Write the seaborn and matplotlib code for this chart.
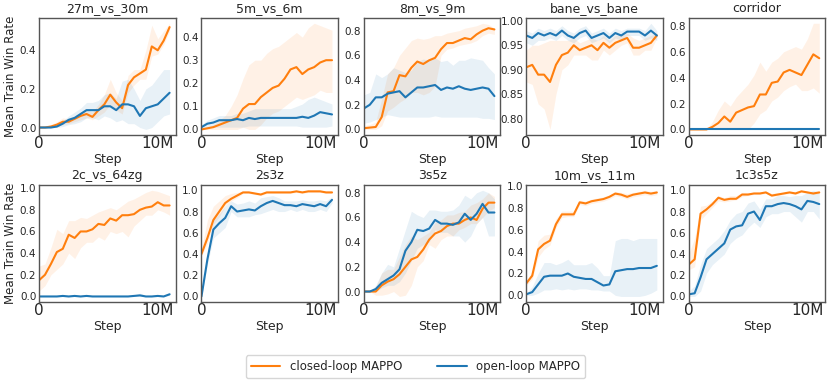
import numpy as np
import pandas as pd
import seaborn as sns
import matplotlib
matplotlib.use("Agg")
import matplotlib.pyplot as plt
from matplotlib.ticker import MultipleLocator, FormatStrFormatter

# steps in millions
steps = [0, 0.5, 1, 1.5, 2, 2.5, 3, 3.5, 4, 4.5, 5, 5.5, 6, 6.5, 7, 7.5, 8, 8.5, 9, 9.5, 10, 10.5, 11]

maps = ['27m_vs_30m', '5m_vs_6m', '8m_vs_9m', 'bane_vs_bane', 'corridor',
        '2c_vs_64zg', '2s3z', '3s5z', '10m_vs_11m', '1c3s5z']
ytick_step = [0.2, 0.1, 0.2, 0.05, 0.2, 0.2, 0.2, 0.2, 0.2, 0.2]

# closed-loop MAPPO (mean, low, high)
cl_27m = [0, 0, 0.005, 0.015, 0.03, 0.03, 0.045, 0.06, 0.07, 0.055, 0.09, 0.12, 0.17, 0.13, 0.1, 0.22, 0.26, 0.28, 0.3, 0.42, 0.4, 0.45, 0.52]
cl_27m_lo = [0, 0, 0, 0.005, 0.015, 0.02, 0.03, 0.04, 0.05, 0.04, 0.06, 0.08, 0.12, 0.09, 0.07, 0.18, 0.22, 0.25, 0.25, 0.37, 0.38, 0.43, 0.5]
cl_27m_hi = [0, 0.01, 0.015, 0.03, 0.05, 0.045, 0.06, 0.08, 0.09, 0.08, 0.12, 0.17, 0.25, 0.18, 0.14, 0.27, 0.3, 0.3, 0.4, 0.53, 0.46, 0.5, 0.54]
ol_27m = [0, 0, 0, 0.005, 0.02, 0.04, 0.05, 0.07, 0.09, 0.09, 0.09, 0.11, 0.11, 0.09, 0.12, 0.12, 0.11, 0.06, 0.1, 0.11, 0.12, 0.15, 0.18]
ol_27m_lo = [0, 0, 0, 0, 0.005, 0.015, 0.02, 0.03, 0.05, 0.05, 0.04, 0.06, 0.05, 0.03, 0.04, 0.02, 0.02, 0.0, -0.01, 0.0, 0.03, 0.06, 0.07]
ol_27m_hi = [0, 0, 0.005, 0.01, 0.035, 0.06, 0.08, 0.1, 0.13, 0.13, 0.14, 0.17, 0.18, 0.15, 0.24, 0.25, 0.2, 0.14, 0.2, 0.22, 0.26, 0.3, 0.3]

cl_5m = [0, 0.005, 0.01, 0.02, 0.03, 0.04, 0.05, 0.09, 0.11, 0.11, 0.14, 0.16, 0.18, 0.19, 0.22, 0.26, 0.27, 0.24, 0.26, 0.27, 0.29, 0.3, 0.3]
cl_5m_lo = [0, 0, 0, 0, 0, 0, 0, 0.01, 0, 0, 0.02, 0.05, 0.07, 0.08, 0.1, 0.12, 0.14, 0.13, 0.14, 0.15, 0.17, 0.16, 0.16]
cl_5m_hi = [0, 0.01, 0.02, 0.04, 0.06, 0.1, 0.15, 0.22, 0.28, 0.3, 0.3, 0.33, 0.35, 0.36, 0.38, 0.4, 0.42, 0.4, 0.44, 0.46, 0.45, 0.44, 0.43]
ol_5m = [0.01, 0.025, 0.03, 0.04, 0.04, 0.04, 0.045, 0.04, 0.05, 0.045, 0.05, 0.05, 0.05, 0.05, 0.05, 0.05, 0.05, 0.055, 0.05, 0.06, 0.075, 0.07, 0.065]
ol_5m_lo = [0, 0.01, 0.01, 0.01, 0.01, 0.01, 0.01, 0.01, 0.015, 0.015, 0.015, 0.015, 0.015, 0.015, 0.015, 0.015, 0.015, 0.01, 0.01, 0.01, 0.01, 0.01, 0.015]
ol_5m_hi = [0.02, 0.04, 0.05, 0.06, 0.06, 0.06, 0.07, 0.07, 0.08, 0.09, 0.09, 0.09, 0.09, 0.09, 0.09, 0.09, 0.1, 0.11, 0.13, 0.14, 0.13, 0.12, 0.11]

cl_8m = [0.01, 0.015, 0.02, 0.1, 0.3, 0.31, 0.44, 0.43, 0.5, 0.55, 0.53, 0.56, 0.58, 0.65, 0.7, 0.7, 0.72, 0.74, 0.73, 0.77, 0.8, 0.82, 0.81]
cl_8m_lo = [0, 0, 0, 0.03, 0.15, 0.18, 0.22, 0.25, 0.3, 0.3, 0.28, 0.3, 0.35, 0.6, 0.65, 0.66, 0.68, 0.69, 0.7, 0.72, 0.76, 0.78, 0.77]
cl_8m_hi = [0.03, 0.04, 0.06, 0.25, 0.45, 0.5, 0.6, 0.66, 0.72, 0.74, 0.73, 0.74, 0.76, 0.76, 0.78, 0.79, 0.8, 0.82, 0.83, 0.84, 0.86, 0.85, 0.82]
ol_8m = [0.17, 0.2, 0.26, 0.26, 0.29, 0.3, 0.31, 0.26, 0.3, 0.34, 0.34, 0.35, 0.36, 0.32, 0.34, 0.33, 0.35, 0.33, 0.32, 0.33, 0.34, 0.33, 0.27]
ol_8m_lo = [0.05, 0.06, 0.08, 0.1, 0.12, 0.11, 0.1, 0.1, 0.1, 0.1, 0.1, 0.1, 0.11, 0.1, 0.1, 0.1, 0.1, 0.1, 0.1, 0.1, 0.09, 0.09, 0.08]
ol_8m_hi = [0.28, 0.3, 0.45, 0.42, 0.45, 0.5, 0.48, 0.46, 0.48, 0.55, 0.57, 0.56, 0.58, 0.55, 0.56, 0.52, 0.56, 0.56, 0.58, 0.57, 0.56, 0.5, 0.45]

cl_bane = [0.905, 0.91, 0.89, 0.89, 0.875, 0.91, 0.93, 0.935, 0.95, 0.94, 0.945, 0.95, 0.94, 0.955, 0.945, 0.955, 0.96, 0.965, 0.945, 0.945, 0.95, 0.955, 0.97]
cl_bane_lo = [0.875, 0.87, 0.83, 0.82, 0.778, 0.85, 0.9, 0.91, 0.93, 0.93, 0.93, 0.92, 0.92, 0.94, 0.93, 0.94, 0.95, 0.955, 0.93, 0.93, 0.94, 0.94, 0.965]
cl_bane_hi = [0.94, 0.95, 0.95, 0.955, 0.96, 0.96, 0.96, 0.96, 0.965, 0.955, 0.96, 0.965, 0.96, 0.97, 0.96, 0.97, 0.97, 0.975, 0.965, 0.96, 0.965, 0.97, 0.975]
ol_bane = [0.97, 0.965, 0.975, 0.97, 0.975, 0.97, 0.98, 0.97, 0.965, 0.975, 0.98, 0.965, 0.97, 0.975, 0.965, 0.975, 0.97, 0.978, 0.978, 0.978, 0.97, 0.98, 0.97]
ol_bane_lo = [0.955, 0.95, 0.96, 0.96, 0.965, 0.96, 0.97, 0.96, 0.955, 0.965, 0.97, 0.955, 0.96, 0.965, 0.955, 0.965, 0.96, 0.97, 0.97, 0.97, 0.96, 0.965, 0.96]
ol_bane_hi = [0.98, 0.975, 0.985, 0.98, 0.985, 0.98, 0.99, 0.98, 0.975, 0.985, 0.99, 0.975, 0.98, 0.985, 0.975, 0.985, 0.98, 0.985, 0.985, 0.985, 0.98, 0.995, 0.98]

cl_corr = [0, 0, 0, 0, 0.02, 0.05, 0.1, 0.06, 0.13, 0.15, 0.17, 0.18, 0.27, 0.27, 0.36, 0.37, 0.44, 0.46, 0.44, 0.42, 0.5, 0.58, 0.55]
cl_corr_lo = [0, 0, 0, 0, 0, 0, 0, 0, 0, 0, 0, 0.05, 0.12, 0.15, 0.22, 0.25, 0.3, 0.33, 0.35, 0.3, 0.3, 0.32, 0.28]
cl_corr_hi = [0, 0, 0, 0, 0.06, 0.15, 0.22, 0.18, 0.25, 0.3, 0.35, 0.42, 0.52, 0.45, 0.52, 0.55, 0.6, 0.62, 0.64, 0.62, 0.7, 0.82, 0.82]
ol_corr = [0] * 23
ol_corr_lo = [0] * 23
ol_corr_hi = [0] * 23

cl_2c = [0.15, 0.2, 0.3, 0.41, 0.44, 0.57, 0.54, 0.6, 0.6, 0.62, 0.67, 0.66, 0.72, 0.7, 0.75, 0.75, 0.76, 0.8, 0.82, 0.83, 0.87, 0.84, 0.84]
cl_2c_lo = [0.05, 0.1, 0.2, 0.25, 0.3, 0.4, 0.35, 0.45, 0.5, 0.5, 0.55, 0.52, 0.6, 0.58, 0.6, 0.55, 0.65, 0.7, 0.75, 0.75, 0.8, 0.78, 0.75]
cl_2c_hi = [0.28, 0.3, 0.45, 0.62, 0.58, 0.7, 0.7, 0.73, 0.72, 0.75, 0.78, 0.8, 0.82, 0.8, 0.84, 0.88, 0.9, 0.93, 0.96, 0.98, 0.97, 0.95, 0.93]
ol_2c = [0, 0, 0, 0, 0.005, 0, 0.005, 0, 0.005, 0, 0, 0, 0, 0, 0, 0, 0.005, 0.01, 0, 0, 0.005, 0, 0.02]
ol_2c_lo = [0, 0, 0, 0, 0, 0, 0, 0, 0, 0, 0, 0, 0, 0, 0, 0, 0, 0, 0, 0, 0, 0, 0.01]
ol_2c_hi = [0.01, 0.01, 0.01, 0.01, 0.015, 0.01, 0.015, 0.01, 0.015, 0.01, 0.01, 0.01, 0.01, 0.01, 0.01, 0.01, 0.015, 0.03, 0.01, 0.01, 0.015, 0.01, 0.04]

cl_2s3z = [0.4, 0.55, 0.72, 0.8, 0.88, 0.92, 0.95, 0.98, 0.98, 0.97, 0.96, 0.98, 0.98, 0.98, 0.98, 0.98, 0.99, 0.98, 0.99, 0.99, 0.99, 0.98, 0.98]
cl_2s3z_lo = [0.38, 0.5, 0.68, 0.75, 0.85, 0.9, 0.93, 0.97, 0.97, 0.96, 0.95, 0.97, 0.97, 0.97, 0.97, 0.97, 0.98, 0.97, 0.98, 0.98, 0.98, 0.97, 0.97]
cl_2s3z_hi = [0.45, 0.72, 0.85, 0.9, 0.95, 0.97, 0.98, 0.99, 0.99, 0.98, 0.97, 0.99, 0.99, 0.99, 0.99, 0.99, 1.0, 0.99, 1.0, 1.0, 1.0, 0.99, 0.99]
ol_2s3z = [0, 0.35, 0.63, 0.69, 0.74, 0.85, 0.8, 0.81, 0.82, 0.81, 0.85, 0.88, 0.9, 0.88, 0.86, 0.86, 0.85, 0.87, 0.86, 0.85, 0.87, 0.85, 0.91]
ol_2s3z_lo = [0, 0.3, 0.55, 0.6, 0.65, 0.8, 0.75, 0.75, 0.75, 0.77, 0.78, 0.8, 0.82, 0.8, 0.8, 0.82, 0.8, 0.82, 0.8, 0.8, 0.82, 0.8, 0.88]
ol_2s3z_hi = [0, 0.42, 0.72, 0.78, 0.85, 0.9, 0.87, 0.88, 0.9, 0.88, 0.93, 0.94, 0.95, 0.93, 0.9, 0.9, 0.9, 0.91, 0.9, 0.9, 0.91, 0.9, 0.94]

cl_3s5z = [0, 0, 0, 0.05, 0.08, 0.1, 0.14, 0.2, 0.26, 0.28, 0.34, 0.42, 0.47, 0.49, 0.53, 0.55, 0.55, 0.58, 0.6, 0.58, 0.67, 0.72, 0.72]
cl_3s5z_lo = [0, 0, -0.03, -0.03, -0.02, 0, -0.04, -0.03, 0.05, 0.2, 0.25, 0.38, 0.35, 0.42, 0.45, 0.45, 0.5, 0.52, 0.55, 0.55, 0.6, 0.65, 0.68]
cl_3s5z_hi = [0, 0, 0.04, 0.15, 0.18, 0.18, 0.28, 0.38, 0.45, 0.42, 0.45, 0.48, 0.56, 0.58, 0.62, 0.62, 0.64, 0.65, 0.7, 0.72, 0.75, 0.8, 0.77]
ol_3s5z = [0, 0, 0.02, 0.07, 0.1, 0.13, 0.18, 0.33, 0.4, 0.5, 0.49, 0.51, 0.58, 0.55, 0.55, 0.54, 0.56, 0.63, 0.58, 0.63, 0.71, 0.64, 0.64]
ol_3s5z_lo = [0, 0, 0, 0.03, 0.05, 0.05, 0.08, 0.15, 0.25, 0.35, 0.38, 0.4, 0.5, 0.48, 0.48, 0.45, 0.45, 0.4, 0.45, 0.55, 0.6, 0.45, 0.45]
ol_3s5z_hi = [0, 0, 0.05, 0.15, 0.22, 0.2, 0.35, 0.5, 0.65, 0.62, 0.6, 0.66, 0.66, 0.65, 0.65, 0.66, 0.7, 0.78, 0.75, 0.8, 0.82, 0.8, 0.75]

cl_10m = [0.11, 0.18, 0.42, 0.47, 0.5, 0.65, 0.74, 0.74, 0.74, 0.85, 0.84, 0.86, 0.87, 0.88, 0.9, 0.93, 0.92, 0.9, 0.92, 0.93, 0.94, 0.93, 0.94]
cl_10m_lo = [0.09, 0.15, 0.35, 0.42, 0.46, 0.62, 0.71, 0.72, 0.72, 0.83, 0.82, 0.84, 0.85, 0.86, 0.88, 0.91, 0.9, 0.88, 0.9, 0.91, 0.92, 0.91, 0.92]
cl_10m_hi = [0.13, 0.22, 0.5, 0.55, 0.56, 0.7, 0.77, 0.77, 0.77, 0.87, 0.86, 0.88, 0.89, 0.9, 0.92, 0.95, 0.94, 0.93, 0.94, 0.95, 0.96, 0.95, 0.96]
ol_10m = [0.01, 0.03, 0.1, 0.17, 0.18, 0.18, 0.18, 0.2, 0.17, 0.16, 0.15, 0.15, 0.12, 0.09, 0.1, 0.22, 0.23, 0.24, 0.24, 0.25, 0.25, 0.25, 0.27]
ol_10m_lo = [0, 0, 0.02, 0.05, 0.05, 0.06, 0.05, 0.06, 0.05, 0.06, 0.06, 0.05, 0.05, 0.04, 0.04, 0, -0.01, -0.01, -0.01, -0.01, 0, 0.02, 0.05]
ol_10m_hi = [0.02, 0.08, 0.2, 0.3, 0.3, 0.28, 0.3, 0.33, 0.28, 0.28, 0.28, 0.3, 0.25, 0.18, 0.18, 0.5, 0.52, 0.52, 0.5, 0.52, 0.52, 0.52, 0.52]

cl_1c = [0.3, 0.35, 0.78, 0.82, 0.87, 0.93, 0.91, 0.92, 0.92, 0.96, 0.96, 0.97, 0.97, 0.98, 0.95, 0.96, 0.97, 0.98, 0.97, 0.99, 0.98, 0.97, 0.98]
cl_1c_lo = [0.25, 0.28, 0.72, 0.78, 0.84, 0.9, 0.89, 0.9, 0.91, 0.94, 0.95, 0.96, 0.96, 0.97, 0.94, 0.95, 0.96, 0.97, 0.96, 0.98, 0.97, 0.96, 0.97]
cl_1c_hi = [0.4, 0.55, 0.85, 0.86, 0.9, 0.95, 0.93, 0.95, 0.95, 0.98, 0.98, 0.98, 0.98, 0.99, 0.97, 0.98, 0.98, 0.99, 0.99, 1.0, 0.99, 0.98, 0.99]
ol_1c = [0.02, 0.03, 0.18, 0.35, 0.4, 0.45, 0.5, 0.63, 0.66, 0.67, 0.78, 0.8, 0.72, 0.85, 0.85, 0.87, 0.88, 0.87, 0.85, 0.82, 0.9, 0.89, 0.87]
ol_1c_lo = [0, 0, 0.05, 0.22, 0.3, 0.35, 0.4, 0.5, 0.55, 0.58, 0.65, 0.7, 0.65, 0.75, 0.78, 0.78, 0.8, 0.8, 0.75, 0.7, 0.8, 0.8, 0.73]
ol_1c_hi = [0.05, 0.1, 0.3, 0.45, 0.5, 0.55, 0.62, 0.72, 0.78, 0.8, 0.88, 0.9, 0.82, 0.92, 0.92, 0.95, 0.95, 0.94, 0.95, 0.95, 0.98, 1.0, 0.98]

closed = [(cl_27m, cl_27m_lo, cl_27m_hi), (cl_5m, cl_5m_lo, cl_5m_hi), (cl_8m, cl_8m_lo, cl_8m_hi),
          (cl_bane, cl_bane_lo, cl_bane_hi), (cl_corr, cl_corr_lo, cl_corr_hi), (cl_2c, cl_2c_lo, cl_2c_hi),
          (cl_2s3z, cl_2s3z_lo, cl_2s3z_hi), (cl_3s5z, cl_3s5z_lo, cl_3s5z_hi), (cl_10m, cl_10m_lo, cl_10m_hi),
          (cl_1c, cl_1c_lo, cl_1c_hi)]
opened = [(ol_27m, ol_27m_lo, ol_27m_hi), (ol_5m, ol_5m_lo, ol_5m_hi), (ol_8m, ol_8m_lo, ol_8m_hi),
          (ol_bane, ol_bane_lo, ol_bane_hi), (ol_corr, ol_corr_lo, ol_corr_hi), (ol_2c, ol_2c_lo, ol_2c_hi),
          (ol_2s3z, ol_2s3z_lo, ol_2s3z_hi), (ol_3s5z, ol_3s5z_lo, ol_3s5z_hi), (ol_10m, ol_10m_lo, ol_10m_hi),
          (ol_1c, ol_1c_lo, ol_1c_hi)]

labels = ['closed-loop MAPPO', 'open-loop MAPPO']
colors = {'closed-loop MAPPO': '#ff7f0e', 'open-loop MAPPO': '#1f77b4'}

sns.set_style("white")
plt.rcParams['font.family'] = ['DejaVu Sans']

fig, axes = plt.subplots(2, 5, figsize=(8.31, 3.82), dpi=100)
fig.subplots_adjust(left=0.047, right=0.993, top=0.953, bottom=0.21, wspace=0.19, hspace=0.43)

x = np.array(steps) * 1e6
for i, ax in enumerate(axes.flat):
    rows = []
    for lab, (m, lo, hi) in zip(labels, [closed[i], opened[i]]):
        ax.fill_between(x, lo, hi, color=colors[lab], alpha=0.1, linewidth=0)
        for s, v in zip(x, m):
            rows.append({'step': s, 'rate': v, 'method': lab})
    df = pd.DataFrame(rows)
    sns.lineplot(data=df, x='step', y='rate', hue='method', palette=colors,
                 linewidth=1.5, ax=ax, legend=False)
    ax.set_title(maps[i], fontsize=9, pad=4)
    ax.set_xlim(0, 11.5e6)
    ax.set_xticks([0, 10e6])
    ax.set_xticklabels(['0', '10M'], fontsize=11)
    ax.yaxis.set_major_locator(MultipleLocator(ytick_step[i]))
    ax.yaxis.set_major_formatter(FormatStrFormatter('%.2f' if ytick_step[i] < 0.1 else '%.1f'))
    ax.tick_params(axis='y', labelsize=7.5, direction='in', length=3, pad=2)
    ax.tick_params(axis='x', direction='in', length=3, pad=1)
    ax.set_xlabel('Step', fontsize=9, labelpad=1)
    if i % 5 == 0:
        ax.set_ylabel('Mean Train Win Rate', fontsize=8.5, labelpad=2)
    else:
        ax.set_ylabel('')
    for sp in ax.spines.values():
        sp.set_color('#555555')
        sp.set_linewidth(1.0)

handles = [plt.Line2D([], [], color=colors[l], linewidth=1.5) for l in labels]
leg = fig.legend(handles, labels, loc='center', bbox_to_anchor=(0.5, 0.04), ncol=2,
                 fontsize=8.5, frameon=True, handlelength=2.5, columnspacing=3)
leg.get_frame().set_edgecolor('#cccccc')

fig.savefig('out.png', dpi=100)
